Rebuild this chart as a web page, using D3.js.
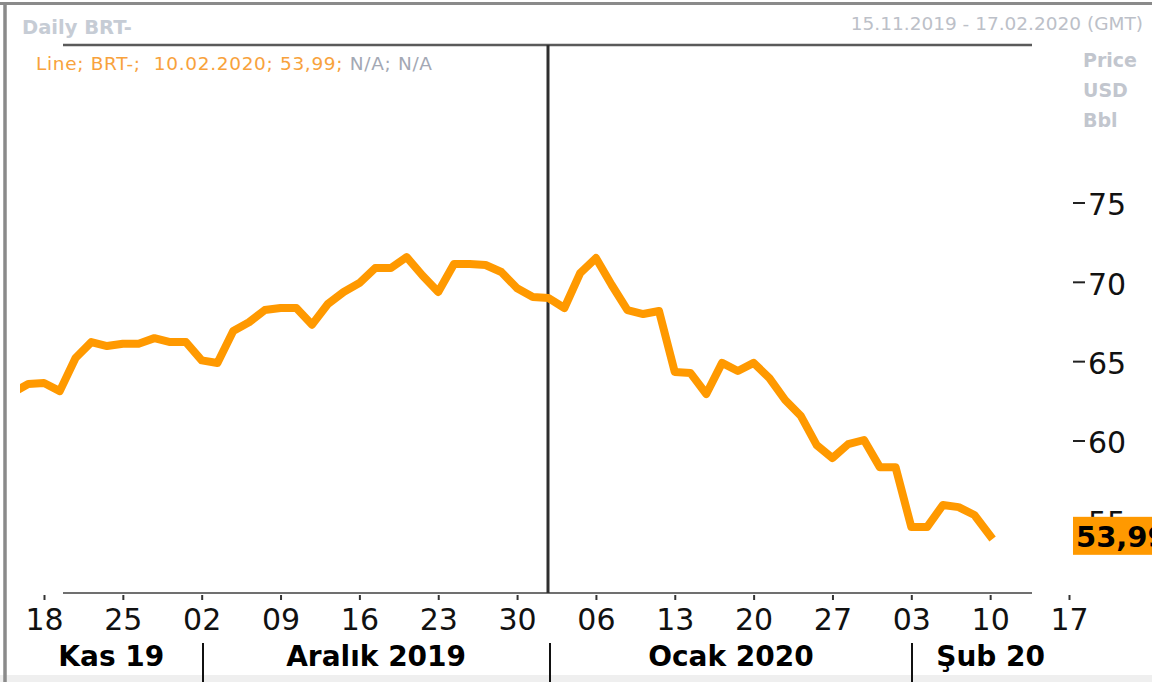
<!DOCTYPE html>
<html><head><meta charset="utf-8">
<script src="https://cdn.jsdelivr.net/npm/d3@7"></script>
<style>
html,body{margin:0;padding:0;background:#fff;}
svg{display:block;font-family:"DejaVu Sans",Verdana,sans-serif;}
</style>
</head><body>
<svg id="c" width="1152" height="682"></svg>
<script>
// ---- data ----
const dates = [
  "2019-11-14","2019-11-15",
  "2019-11-18","2019-11-19","2019-11-20","2019-11-21","2019-11-22",
  "2019-11-25","2019-11-26","2019-11-27","2019-11-28","2019-11-29",
  "2019-12-02","2019-12-03","2019-12-04","2019-12-05","2019-12-06",
  "2019-12-09","2019-12-10","2019-12-11","2019-12-12","2019-12-13",
  "2019-12-16","2019-12-17","2019-12-18","2019-12-19","2019-12-20",
  "2019-12-23","2019-12-24","2019-12-25","2019-12-26","2019-12-27",
  "2019-12-30","2019-12-31","2020-01-01","2020-01-02","2020-01-03",
  "2020-01-06","2020-01-07","2020-01-08","2020-01-09","2020-01-10",
  "2020-01-13","2020-01-14","2020-01-15","2020-01-16","2020-01-17",
  "2020-01-20","2020-01-21","2020-01-22","2020-01-23","2020-01-24",
  "2020-01-27","2020-01-28","2020-01-29","2020-01-30","2020-01-31",
  "2020-02-03","2020-02-04","2020-02-05","2020-02-06","2020-02-07",
  "2020-02-10"
];
const prices = [
  63.00, 63.56,
  63.62, 63.11, 65.20, 66.20, 65.95,
  66.10, 66.10, 66.45, 66.20, 66.20,
  65.05, 64.88, 66.90, 67.45, 68.22,
  68.35, 68.35, 67.30, 68.60, 69.36,
  69.92, 70.87, 70.87, 71.56, 70.40,
  69.36, 71.12, 71.12, 71.06, 70.62,
  69.60, 69.04, 68.98, 68.35, 70.55,
  71.50, 69.80, 68.22, 67.97, 68.16,
  64.32, 64.25, 62.93, 64.89, 64.38,
  64.89, 63.93, 62.55, 61.54, 59.71,
  58.89, 59.77, 60.03, 58.32, 58.32,
  54.54, 54.54, 55.93, 55.80, 55.30,
  53.99
];
const axisExtraDates = ["2020-02-11","2020-02-12","2020-02-13","2020-02-14","2020-02-17"];
const tickDates = ["2019-11-18","2019-11-25","2019-12-02","2019-12-09","2019-12-16","2019-12-23","2019-12-30",
                   "2020-01-06","2020-01-13","2020-01-20","2020-01-27","2020-02-03","2020-02-10","2020-02-17"];
const tickLabels = ["18","25","02","09","16","23","30","06","13","20","27","03","10","17"];
const monthLabels = ["Kas 19","Aralık 2019","Ocak 2020","Şub 20"];
const monthStarts = ["2019-12-02","2020-01-01","2020-02-03"];
const yTicks = [55,60,65,70,75];
const cursorDate = "2020-01-01";
const lastLabel = "53,99";

// ---- scales ----
const svg = d3.select("#c");
const x = d3.scalePoint().domain(dates.concat(axisExtraDates)).range([12.46, 1069]);
const y = d3.scaleLinear().domain([55, 75]).range([519.8, 202.5]);
const plotLeft = 20, plotTop = 45, plotBottom = 593, frameLeft = 63, frameRight = 1032;

svg.append("rect").attr("width",1152).attr("height",682).attr("fill","#fff");
svg.append("rect").attr("x",0).attr("y",675).attr("width",1152).attr("height",7).attr("fill","#efefef");

// borders
svg.append("line").attr("x1",0).attr("x2",1152).attr("y1",3.5).attr("y2",3.5)
  .attr("stroke","#8a8a8a").attr("stroke-width",3);
svg.append("line").attr("x1",5).attr("x2",5).attr("y1",2).attr("y2",682)
  .attr("stroke","#8a8a8a").attr("stroke-width",3.5);

// header texts
svg.append("text").attr("x",22).attr("y",34).attr("font-weight","bold").attr("font-size",19.5)
  .attr("fill","#c6ccd5").text("Daily BRT-");
const info = svg.append("text").attr("x",36).attr("y",70).attr("font-size",18.5)
  .attr("textLength",396).attr("lengthAdjust","spacing");
info.append("tspan").attr("fill","#f8a23c").text("Line; BRT-;\u00a0 10.02.2020; " + lastLabel + "; ");
info.append("tspan").attr("fill","#a3a8b4").text("N/A; N/A");
svg.append("text").attr("x",1143).attr("y",30).attr("text-anchor","end").attr("font-size",18.5)
  .attr("fill","#bcc0c8").text("15.11.2019 - 17.02.2020 (GMT)");
["Price","USD","Bbl"].forEach((t,i)=>{
  svg.append("text").attr("x",1083).attr("y",67+30*i).attr("font-weight","bold").attr("font-size",19)
    .attr("fill","#c2c6ce").text(t);
});

// frame lines
svg.append("line").attr("x1",frameLeft).attr("x2",frameRight).attr("y1",plotTop).attr("y2",plotTop)
  .attr("stroke","#5a5a5a").attr("stroke-width",2.5);
svg.append("line").attr("x1",frameLeft).attr("x2",frameRight).attr("y1",plotBottom).attr("y2",plotBottom)
  .attr("stroke","#707070").attr("stroke-width",2);

// x axis ticks
const xAxis = d3.axisBottom(x).tickValues(tickDates).tickSize(5).tickPadding(0)
  .tickFormat((d,i)=>tickLabels[i]);
const gx = svg.append("g").attr("transform",`translate(0,${plotBottom+2})`).call(xAxis);
gx.select(".domain").remove();
gx.selectAll(".tick line").attr("stroke","#333").attr("stroke-width",2);
gx.selectAll(".tick text").attr("y",35).attr("dy",0).attr("font-size",30)
  .attr("font-family","DejaVu Sans, Verdana, sans-serif").attr("fill","#111");

// y axis
const yAxis = d3.axisRight(y).tickValues(yTicks).tickSize(12).tickPadding(3).tickFormat(d=>d);
const gy = svg.append("g").attr("transform","translate(1073,0)").call(yAxis);
gy.select(".domain").remove();
gy.selectAll(".tick line").attr("stroke","#222").attr("stroke-width",2);
gy.selectAll(".tick text").attr("dy","0.41em").attr("font-size",30)
  .attr("font-family","DejaVu Sans, Verdana, sans-serif").attr("fill","#111");

// clip
svg.append("clipPath").attr("id","clip").append("rect")
  .attr("x",plotLeft).attr("y",plotTop).attr("width",1060-plotLeft).attr("height",plotBottom-plotTop);

// cursor line
const cx = Math.round(x(cursorDate)) - 1;
svg.append("line").attr("x1",cx).attr("x2",cx).attr("y1",plotTop).attr("y2",plotBottom)
  .attr("stroke","#2e2e2e").attr("stroke-width",3);

// price line
const line = d3.line().x((d,i)=>x(dates[i])).y(d=>y(d));
svg.append("path").datum(prices).attr("clip-path","url(#clip)")
  .attr("d",line).attr("fill","none").attr("stroke","#ff9900")
  .attr("stroke-width",8).attr("stroke-linejoin","round").attr("stroke-linecap","square");

// last value label
const ly = y(prices[prices.length-1]);
svg.append("rect").attr("x",1073).attr("y",ly-19).attr("width",90).attr("height",38).attr("fill","#ff9900");
svg.append("text").attr("x",1076).attr("y",ly+11).attr("font-size",29).attr("font-weight","bold")
  .attr("fill","#000").text(lastLabel);

// month separators and labels
monthStarts.forEach(d=>{
  const sx = Math.round(x(d)) + 1;
  svg.append("line").attr("x1",sx).attr("x2",sx).attr("y1",643).attr("y2",682)
    .attr("stroke","#111").attr("stroke-width",2);
});
const bounds = [Math.max(plotLeft, x(dates[0]))].concat(monthStarts.map(d=>x(d)+1), [x(axisExtraDates[axisExtraDates.length-1])]);
monthLabels.forEach((t,i)=>{
  svg.append("text").attr("x",(bounds[i]+bounds[i+1])/2).attr("y",666)
    .attr("text-anchor","middle").attr("font-weight","bold").attr("font-size",28)
    .attr("fill","#000").text(t);
});
</script>
</body></html>
